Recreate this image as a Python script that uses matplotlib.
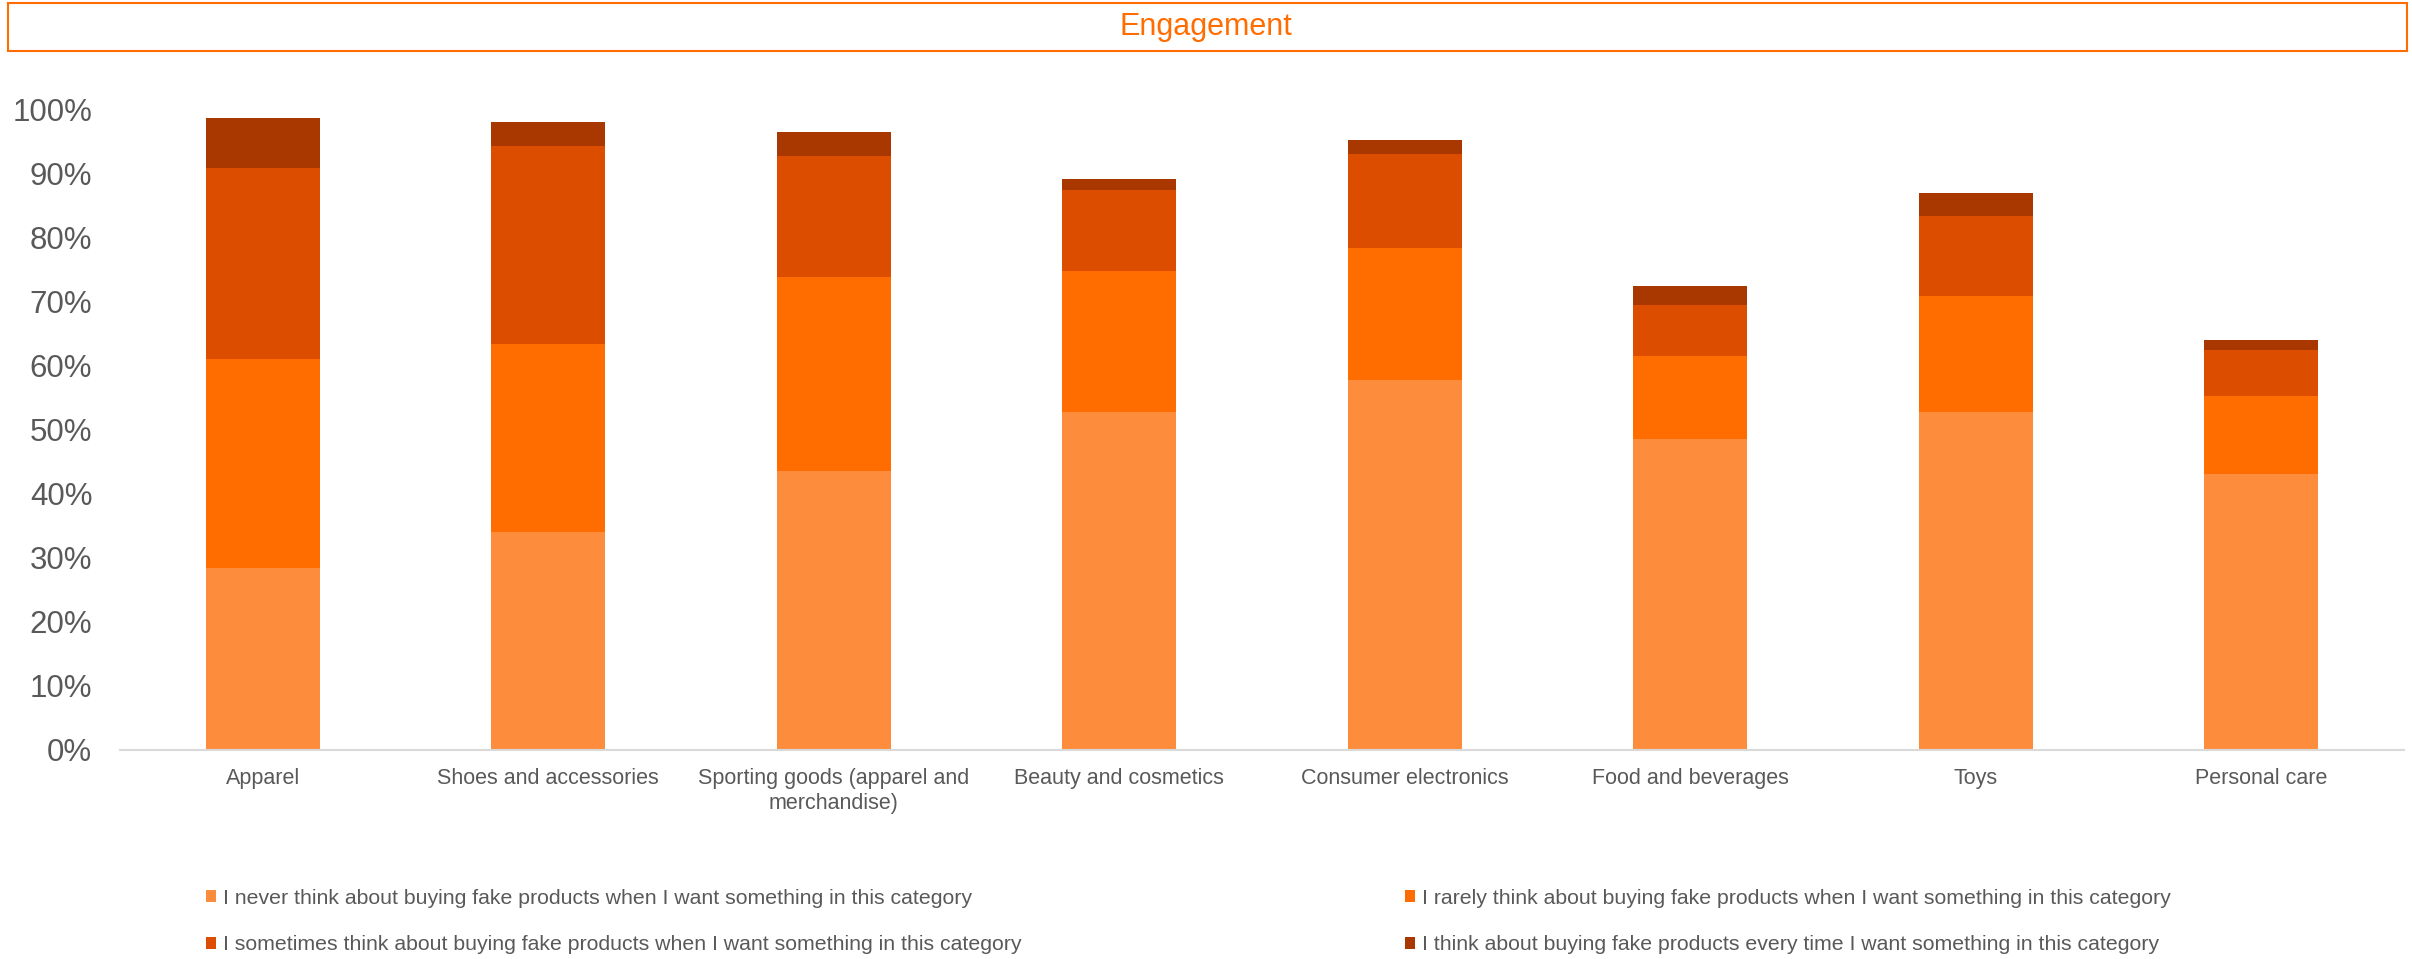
import numpy as np
import matplotlib.pyplot as plt
from matplotlib.patches import Rectangle
from matplotlib.ticker import PercentFormatter

plt.rcParams['font.family'] = ['Liberation Sans', 'DejaVu Sans']

categories = ['Apparel', 'Shoes and accessories', 'Sporting goods (apparel and\nmerchandise)',
              'Beauty and cosmetics', 'Consumer electronics', 'Food and beverages', 'Toys',
              'Personal care']
never = [28.4, 34.0, 43.6, 52.7, 57.7, 48.6, 52.7, 43.0]
rarely = [32.7, 29.3, 30.3, 22.1, 20.6, 12.9, 18.1, 12.2]
sometimes = [29.7, 30.9, 18.8, 12.6, 14.7, 8.0, 12.5, 7.2]
every_time = [7.8, 3.8, 3.7, 1.8, 2.2, 2.9, 3.7, 1.6]

series_labels = [
    'I never think about buying fake products when I want something in this category',
    'I rarely think about buying fake products when I want something in this category',
    'I sometimes think about buying fake products when I want something in this category',
    'I think about buying fake products every time I want something in this category',
]
colors = ['#FD8D3C', '#FF6D00', '#DC4D00', '#A83800']

fig = plt.figure(figsize=(24.12, 9.59), dpi=100)
ax = fig.add_axes([0.0498, 0.218, 0.9469, 0.668])

x = np.arange(len(categories))
bottom = np.zeros(len(categories))
bars = []
for vals, lab, col in zip([never, rarely, sometimes, every_time], series_labels, colors):
    b = ax.bar(x, np.array(vals) / 100, 0.4, bottom=bottom, color=col, label=lab)
    bottom += np.array(vals) / 100
    bars.append(b)

ax.set_xlim(-0.5, len(categories) - 0.5)
ax.set_ylim(0, 1)
ax.set_yticks(np.arange(0, 1.01, 0.1))
ax.yaxis.set_major_formatter(PercentFormatter(1.0, decimals=0))
ax.set_xticks(x)
ax.set_xticklabels(categories, fontsize=15.5, color='#595959', linespacing=1.25)
ax.tick_params(axis='y', length=0, labelsize=22.5, labelcolor='#595959', pad=20)
ax.tick_params(axis='x', length=0, pad=13)
for s in ['top', 'right', 'left']:
    ax.spines[s].set_visible(False)
ax.spines['bottom'].set_color('#D9D9D9')
ax.spines['bottom'].set_linewidth(1.5)

# legend: two columns, row-major order
leg_kw = dict(frameon=False, fontsize=15.3, labelcolor='#595959', handlelength=0.5,
              handleheight=0.5, handletextpad=0.3, labelspacing=1.3, borderpad=0)
leg1 = fig.legend([bars[0], bars[2]], [series_labels[0], series_labels[2]],
                  loc='upper left', bbox_to_anchor=(195 / 2412, 1 - 878 / 959), **leg_kw)
leg2 = fig.legend([bars[1], bars[3]], [series_labels[1], series_labels[3]],
                  loc='upper left', bbox_to_anchor=(1394 / 2412, 1 - 878 / 959), **leg_kw)

# title box
fig.patches.append(Rectangle((8 / 2412, 1 - 51 / 959), 2399 / 2412, 48 / 959,
                             transform=fig.transFigure, fill=False,
                             edgecolor='#FF6D00', linewidth=1.5))
fig.text(0.5, 1 - 27 / 959, 'Engagement', ha='center', va='center',
         fontsize=22, color='#FF6D00')

fig.savefig('out.png', dpi=100)
